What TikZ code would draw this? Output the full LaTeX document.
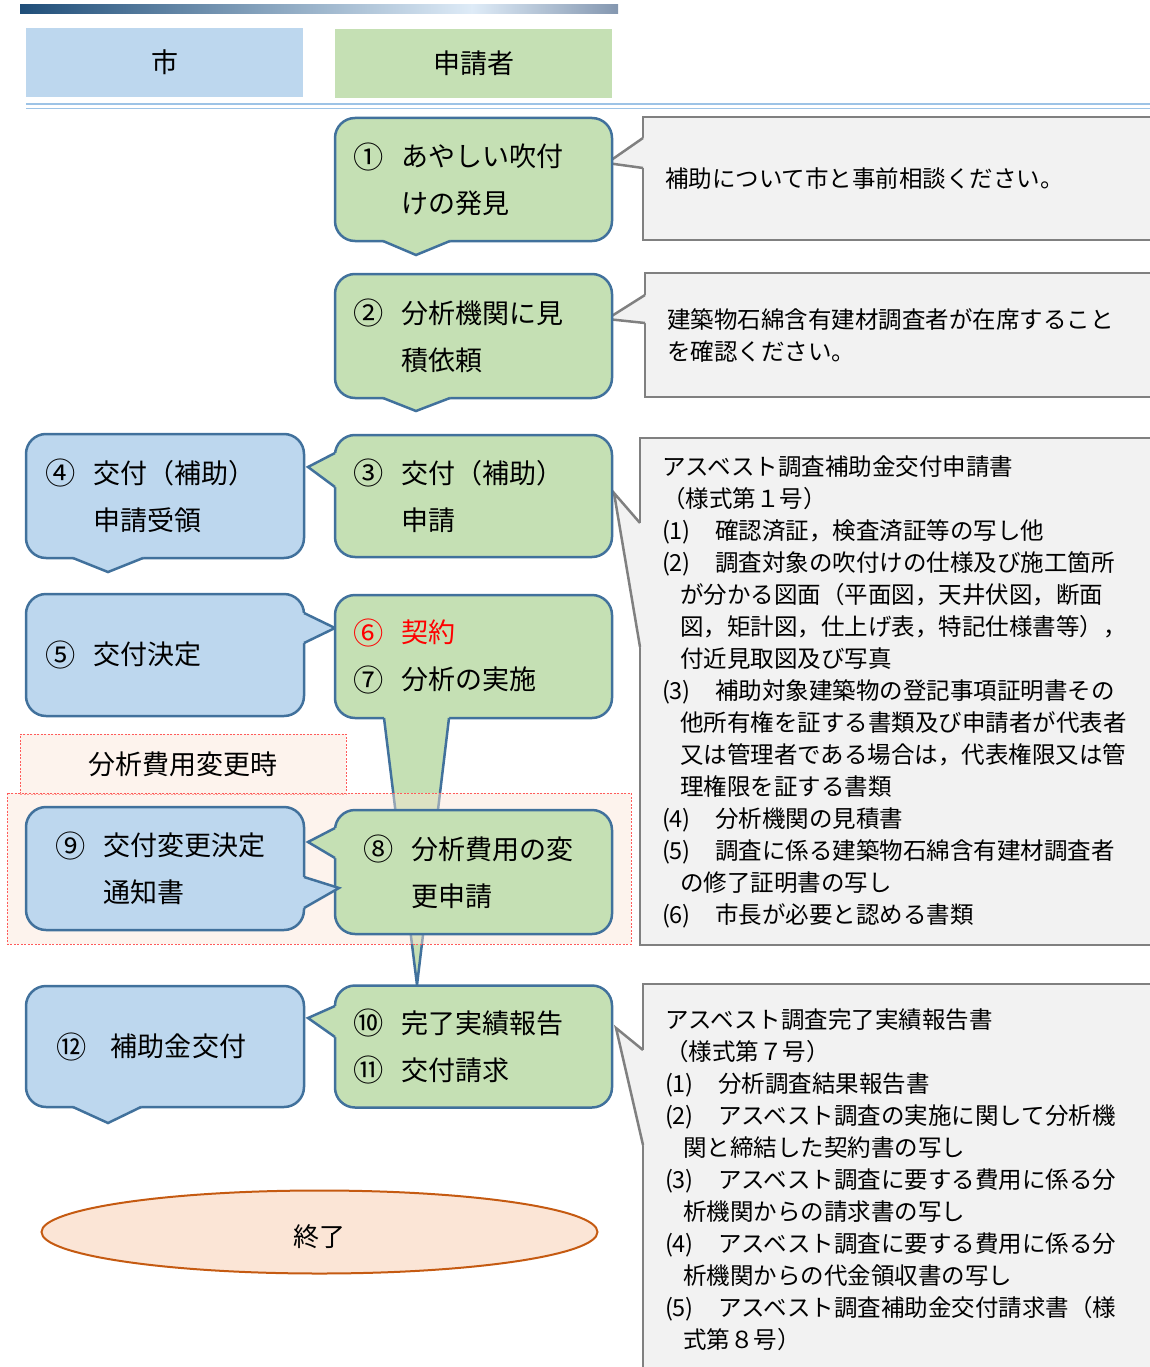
\documentclass[tikz,border=0pt]{standalone}
\usepackage{fontspec}
\setmainfont{Noto Sans CJK JP}
\usepackage{xcolor}
\usetikzlibrary{shapes.geometric}

\definecolor{bluefill}{HTML}{BDD7EE}
\definecolor{greenfill}{HTML}{C5E0B4}
\definecolor{boxline}{HTML}{41719C}
\definecolor{notefill}{HTML}{F2F2F2}
\definecolor{noteline}{HTML}{808080}
\definecolor{pinkfill}{HTML}{FBE5D6}
\definecolor{dashred}{HTML}{FF5B5B}
\definecolor{endline}{HTML}{C55A11}
\definecolor{barnavy}{HTML}{1F4E79}
\definecolor{barlight}{HTML}{DEEBF7}
\definecolor{bargrey}{HTML}{8497B0}
\definecolor{ruleblue}{HTML}{9DC3E6}

\newcommand{\stepno}[1]{\makebox[48pt][l]{\raisebox{-1.5pt}{\scalebox{1.12}{#1}}}}
\newcommand{\stepcont}{\hspace*{48pt}}
\newcommand{\docno}[1]{\makebox[53pt][l]{#1}}
\newcommand{\doccont}{\hspace*{18pt}}

\begin{document}
\begin{tikzpicture}[x=1pt,y=-1pt]
	\tikzstyle{stepbox}=[rectangle,rounded corners=20pt,draw=boxline,line width=2.5pt,outer sep=0pt,anchor=north west,minimum width=277pt,minimum height=123pt,inner xsep=17pt,inner ysep=0pt,text width=240pt,align=left,font=\fontsize{27}{47}\selectfont]
	\tikzstyle{shinsei}=[stepbox,fill=greenfill]
	\tikzstyle{city}=[stepbox,fill=bluefill,minimum width=278pt]
	\tikzstyle{note}=[rectangle,draw=noteline,fill=notefill,line width=2.5pt,outer sep=0pt,anchor=north west,minimum width=517pt,inner xsep=22pt,inner ysep=0pt,text width=473pt,align=left,font=\fontsize{23.5}{32}\selectfont]
	\tikzstyle{header}=[rectangle,anchor=north west,minimum width=277pt,minimum height=69pt,font=\fontsize{27}{32}\selectfont]
	\tikzstyle{changebox}=[draw=dashred,line width=0.8pt,dash pattern=on 2pt off 1.5pt,fill=pinkfill,fill opacity=0.45,text opacity=1]
	\tikzstyle{stepptr}=[draw=boxline,line width=2.5pt]
	\tikzstyle{noteptr}=[draw=noteline,line width=2.5pt]

	\useasboundingbox (0,0) rectangle (1150,1367);
	\clip (0,0) rectangle (1150,1367);

	% title bar and column heads
	\shade[left color=barnavy,right color=barlight] (20,5) rectangle (472,14);
	\shade[left color=barlight,right color=bargrey] (472,5) rectangle (618,14);
	\node[header,fill=bluefill] (shi) at (26,28) {市};
	\node[header,fill=greenfill] (shinseisha) at (335,29) {申請者};
	\draw[ruleblue,line width=2pt] (26,104.5) -- (1150,104.5);
	\draw[ruleblue,line width=1pt] (26,108.5) -- (1150,108.5);

	% notes on the right
	\node[note,minimum height=123pt] (n1) at (643,117) {補助について市と事前相談ください。};
	\fill[notefill] (646,138) -- (643,138) -- (607,163) -- (643,168) -- (646,168) -- cycle;
	\draw[noteptr] (643,138) -- (607,163) -- (643,168);

	\node[note,minimum height=124pt] (n2) at (645,273) {建築物石綿含有建材調査者が在席すること\\を確認ください。};
	\fill[notefill] (648,295) -- (645,295) -- (607,319) -- (645,323) -- (648,323) -- cycle;
	\draw[noteptr] (645,295) -- (607,319) -- (645,323);

	\node[note,minimum height=507pt] (n3) at (640,438) {アスベスト調査補助金交付申請書\\
		（様式第１号）\\
		\docno{(1)}確認済証，検査済証等の写し他\\
		\docno{(2)}調査対象の吹付けの仕様及び施工箇所\\
		\doccont が分かる図面（平面図，天井伏図，断面\\
		\doccont 図，矩計図，仕上げ表，特記仕様書等），\\
		\doccont 付近見取図及び写真\\
		\docno{(3)}補助対象建築物の登記事項証明書その\\
		\doccont 他所有権を証する書類及び申請者が代表者\\
		\doccont 又は管理者である場合は，代表権限又は管\\
		\doccont 理権限を証する書類\\
		\docno{(4)}分析機関の見積書\\
		\docno{(5)}調査に係る建築物石綿含有建材調査者\\
		\doccont の修了証明書の写し\\
		\docno{(6)}市長が必要と認める書類};
	\fill[notefill] (643,523) -- (640,523) -- (614,493) -- (640,647) -- (643,647) -- cycle;
	\draw[noteptr] (640,523) -- (614,493) -- (640,647);

	\node[note,minimum height=392pt] (n4) at (643,984) {アスベスト調査完了実績報告書\\
		（様式第７号）\\
		\docno{(1)}分析調査結果報告書\\
		\docno{(2)}アスベスト調査の実施に関して分析機\\
		\doccont 関と締結した契約書の写し\\
		\docno{(3)}アスベスト調査に要する費用に係る分\\
		\doccont 析機関からの請求書の写し\\
		\docno{(4)}アスベスト調査に要する費用に係る分\\
		\doccont 析機関からの代金領収書の写し\\
		\docno{(5)}アスベスト調査補助金交付請求書（様\\
		\doccont 式第８号）};
	\fill[notefill] (646,1050) -- (643,1050) -- (616,1028) -- (643,1145) -- (646,1145) -- cycle;
	\draw[noteptr] (643,1050) -- (616,1028) -- (643,1145);

	% steps 1-2
	\node[shinsei] (s1) at (335,118) {\stepno{①}あやしい吹付\\\stepcont けの発見};
	\fill[greenfill] (383,238) -- (383,241) -- (416,255) -- (450,241) -- (450,238) -- cycle;
	\draw[stepptr] (383,241) -- (416,255) -- (450,241);

	\node[shinsei,minimum height=124pt] (s2) at (335,274) {\stepno{②}分析機関に見\\\stepcont 積依頼};
	\fill[greenfill] (383,395) -- (383,398) -- (416,411) -- (450,398) -- (450,395) -- cycle;
	\draw[stepptr] (383,398) -- (416,411) -- (450,398);

	% steps 3-5
	\node[city,minimum height=124pt] (c4) at (26,434) {\stepno{④}交付（補助）\\\stepcont 申請受領};
	\fill[bluefill] (73,555) -- (73,558) -- (108,572) -- (143,558) -- (143,555) -- cycle;
	\draw[stepptr] (73,558) -- (108,572) -- (143,558);

	\node[shinsei,minimum height=122pt] (s3) at (335,435) {\stepno{③}交付（補助）\\\stepcont 申請};
	\fill[greenfill] (338,453) -- (335,453) -- (308,467) -- (335,487) -- (338,487) -- cycle;
	\draw[stepptr] (335,453) -- (308,467) -- (335,487);

	\node[city,minimum height=122pt] (c5) at (26,594) {\stepno{⑤}交付決定};
	\fill[bluefill] (301,613) -- (304,613) -- (335,628) -- (304,643) -- (301,643) -- cycle;
	\draw[stepptr] (304,613) -- (335,628) -- (304,643);

	% steps 6-7, long pointer down to step 10
	\node[shinsei] (s6) at (335,595) {\textcolor{red}{\stepno{⑥}契約}\\\stepno{⑦}分析の実施};
	\fill[greenfill] (384,715) -- (384,718) -- (417,985) -- (449,718) -- (449,715) -- cycle;
	\draw[stepptr] (384,718) -- (417,985) -- (449,718);

	% change of cost
	\node[changebox,anchor=north west,minimum width=326pt,minimum height=60pt,font=\fontsize{27}{32}\selectfont] (henko) at (20,734) {分析費用変更時};
	\draw[changebox] (7,793) rectangle (631,944);

	\node[shinsei,minimum height=124pt] (s8) at (335,810) {\hspace*{10pt}\stepno{⑧}分析費用の変\\\hspace*{10pt}\stepcont 更申請};
	\fill[greenfill] (338,828) -- (335,828) -- (308,842) -- (335,858) -- (338,858) -- cycle;
	\draw[stepptr] (335,828) -- (308,842) -- (335,858);

	\node[city] (c9) at (26,807) {\hspace*{10pt}\stepno{⑨}交付変更決定\\\hspace*{10pt}\stepcont 通知書};
	\fill[bluefill] (301,877) -- (304,877) -- (339,888) -- (304,908) -- (301,908) -- cycle;
	\draw[stepptr] (304,877) -- (339,888) -- (304,908);

	% steps 10-12
	\node[shinsei,minimum height=122pt] (s10) at (335,985.5) {\stepno{⑩}完了実績報告\\\stepno{⑪}交付請求};
	\fill[greenfill] (338,1006) -- (335,1006) -- (308,1018) -- (335,1037) -- (338,1037) -- cycle;
	\draw[stepptr] (335,1006) -- (308,1018) -- (335,1037);

	\node[city,minimum height=121pt] (c12) at (26,986) {\hspace*{12pt}\makebox[54pt][l]{\raisebox{-1.5pt}{\scalebox{1.12}{⑫}}}補助金交付};
	\fill[bluefill] (73,1104) -- (73,1107) -- (108,1123) -- (141,1107) -- (141,1104) -- cycle;
	\draw[stepptr] (73,1107) -- (108,1123) -- (141,1107);

	% end
	\node[ellipse,draw=endline,fill=pinkfill,line width=2pt,minimum width=556pt,minimum height=83pt,text height=28pt,text depth=0pt,font=\fontsize{26}{30}\selectfont] (owari) at (319.5,1232) {終了};
\end{tikzpicture}
\end{document}
